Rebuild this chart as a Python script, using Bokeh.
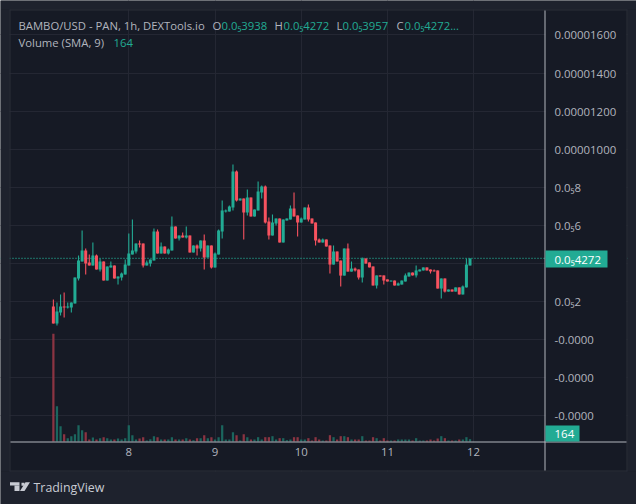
from bokeh.plotting import figure
from bokeh.models import Label, FixedTicker, Range1d, Span, ColumnDataSource, BoxAnnotation, PolyAnnotation
from bokeh.embed import file_html
from bokeh.resources import INLINE

# ---- data (prices in units of 1e-6 USD; first candle sits at day 7.125, one candle per hour)
opens = [1.75,0.85,1.43,1.75,1.69,1.69,1.90,3.22,4.11,4.69,4.06,3.90,4.42,3.69,4.11,3.11,3.79,3.90,3.22,3.27,
         3.43,3.90,4.48,4.63,5.06,5.06,3.90,4.00,4.16,5.68,4.53,4.90,4.53,4.69,5.95,5.32,5.48,5.37,5.48,4.58,
         4.95,4.79,5.21,4.32,4.95,3.79,4.48,5.68,6.73,6.73,6.94,8.83,7.31,7.42,6.68,7.47,6.47,6.79,7.73,8.05,
         6.21,5.48,6.10,6.37,5.11,6.26,6.31,6.89,6.52,6.16,6.31,6.94,6.37,6.16,5.26,5.11,5.26,4.95,3.95,4.63,
         4.16,3.37,4.79,3.58,3.74,3.69,3.27,4.27,4.06,3.85,2.85,3.38,3.38,3.17,3.06,3.11,2.85,2.90,3.06,3.32,
         3.53,3.38,3.59,3.64,3.80,3.69,3.64,3.64,2.69,3.22,2.53,2.64,2.53,2.75,2.38,2.75,3.90]
highs = [2.11,1.96,2.38,2.48,1.96,1.96,3.27,4.42,5.74,4.79,4.48,5.11,4.48,4.27,4.11,3.85,4.11,3.90,3.32,3.53,
         4.21,5.58,6.31,5.06,5.21,5.06,4.16,4.21,5.84,5.79,5.11,4.90,4.79,6.47,5.95,5.48,5.63,5.95,5.48,4.95,
         5.00,5.21,5.53,4.95,4.95,4.58,5.79,7.31,6.84,7.05,9.20,8.89,7.42,7.42,7.89,7.47,6.84,8.31,8.10,8.10,
         6.42,6.58,6.37,6.37,6.31,6.37,7.05,7.73,6.52,6.42,6.94,7.10,6.37,6.16,5.32,5.32,5.26,4.95,4.95,4.63,
         4.16,4.79,5.06,4.11,3.79,3.69,4.32,4.27,4.06,3.85,3.38,3.38,3.38,3.17,3.11,3.11,3.01,3.11,3.48,3.53,
         3.53,3.90,3.69,3.80,3.80,3.69,3.69,3.64,3.22,3.22,2.64,2.64,2.75,2.75,2.85,4.27,4.27]
lows  = [0.85,0.75,1.27,1.17,1.64,1.43,1.90,3.11,4.11,3.43,3.90,3.90,3.69,3.58,3.11,3.11,3.79,3.22,2.90,3.11,
         3.43,3.90,4.48,4.53,4.84,3.79,3.90,3.85,4.16,4.53,4.53,4.53,4.48,4.69,5.32,5.21,5.37,5.32,4.58,4.58,
         4.42,4.63,3.69,4.32,3.74,3.79,4.48,5.32,6.68,6.73,6.79,7.26,7.31,5.26,6.52,6.47,6.47,6.79,7.42,6.10,
         5.26,5.48,6.00,5.11,5.11,6.26,6.31,6.47,5.42,6.16,6.31,6.21,6.10,4.95,5.11,5.11,4.90,3.48,3.95,4.11,
         2.80,3.37,3.58,3.58,3.58,3.17,3.01,4.00,3.80,2.85,2.69,3.32,2.90,3.06,3.06,2.85,2.85,2.90,3.06,3.32,
         3.38,3.27,3.59,3.64,3.64,3.48,3.59,2.69,2.17,2.48,2.53,2.53,2.53,2.38,2.38,2.75,3.90]
closes= [0.85,1.49,1.75,1.69,1.75,1.96,3.27,4.16,4.69,4.00,3.90,4.42,3.69,4.11,3.11,3.85,3.90,3.22,3.32,3.48,
         3.95,4.53,4.69,5.06,5.00,3.90,4.06,4.21,5.68,4.53,4.90,4.53,4.74,5.95,5.32,5.48,5.37,5.48,4.58,4.95,
         4.79,5.21,4.32,4.95,3.79,4.53,5.74,6.79,6.79,7.00,8.83,7.31,7.42,6.68,7.47,6.47,6.84,7.78,8.05,6.16,
         5.48,6.16,6.37,5.11,6.31,6.37,6.89,6.47,6.16,6.37,6.94,6.31,6.10,5.21,5.11,5.26,4.90,3.95,4.63,4.11,
         3.37,4.79,3.58,3.74,3.64,3.27,4.27,4.00,3.80,2.85,3.38,3.32,3.11,3.06,3.11,2.85,2.96,3.11,3.38,3.53,
         3.38,3.64,3.69,3.80,3.64,3.59,3.59,2.69,3.22,2.53,2.64,2.53,2.75,2.38,2.80,3.95,4.27]
volumes = [7580,2480,1076,515,234,374,515,1147,796,655,140,281,140,234,304,234,140,140,210,140,
           234,1147,445,140,210,304,70,164,374,304,140,140,140,304,140,140,140,234,140,94,
           234,234,445,234,304,140,304,1147,140,140,655,445,70,515,304,140,140,304,140,304,
           304,374,140,234,234,94,140,304,304,140,140,234,70,304,140,70,70,445,304,140,
           374,374,304,140,140,140,374,70,70,304,234,70,234,70,70,70,140,140,140,140,
           70,234,70,70,70,140,70,210,374,234,70,70,70,140,140,304,164]
price_ticks = [16, 14, 12, 10, 8, 6, 4, 2, 0, -2, -4]
price_labels = ["0.00001600", "0.00001400", "0.00001200", "0.00001000", "0.0₅8", "0.0₅6", "",
                "0.0₅2", "-0.0000", "-0.0000", "-0.0000"]
day_ticks = [8, 9, 10, 11, 12]
last_price = 4.272
last_volume = 164
start_day = 7.125

BG = "#161a25"; OUTER = "#1e222d"; EDGE = "#2a2e39"; GRID = "#242733"; AXIS = "#b2b5be"
UP = "#22ab94"; DOWN = "#f7525f"; UPV = "#1b665e"; DOWNV = "#8b3442"
FONT = "Open Sans"

days = [start_day + i / 24 for i in range(len(opens))]
up = [c >= o for o, c in zip(opens, closes)]
src = ColumnDataSource(dict(
    x=days, o=opens, h=highs, l=lows, c=closes, v=volumes,
    top=[max(a, b) for a, b in zip(opens, closes)],
    bot=[min(a, b) for a, b in zip(opens, closes)],
    col=[UP if u else DOWN for u in up],
    volcol=[UPV if u else DOWNV for u in up],
))

# The frame fills the whole page; the axes are pinned at the pane edges inside it.
p = figure(frame_width=636, frame_height=504, output_backend="svg", toolbar_location=None,
           x_range=Range1d(6.5116, 13.8896), y_range=Range1d(-8.646, 17.811),
           x_axis_location="below", y_axis_location="right",
           min_border=0, min_border_left=0, min_border_top=0, min_border_right=0, min_border_bottom=0,
           background_fill_color=BG, border_fill_color=OUTER, outline_line_color=None)
p.extra_y_ranges = {"vol": Range1d(-4429, 31002)}


def box(x0, y0, x1, y1, fill, level="glyph"):
    p.add_layout(BoxAnnotation(left=x0, right=x1, top=y0, bottom=y1,
                               left_units="canvas", right_units="canvas", top_units="canvas", bottom_units="canvas",
                               fill_color=fill, fill_alpha=1, line_alpha=0, level=level))


def label(x, y, text, color, size="11.3px"):
    p.add_layout(Label(x=x, y=y, x_units="canvas", y_units="canvas", text=text, text_color=color,
                       text_font=FONT, text_font_size=size, text_baseline="middle", text_align="left"))


for ax in (p.xaxis[0], p.yaxis[0]):
    ax.major_tick_line_color = None
    ax.minor_tick_line_color = None
    ax.major_tick_out = 0
    ax.axis_line_color = None
    ax.major_label_text_color = AXIS
    ax.major_label_text_font = FONT
    ax.major_label_text_font_size = "11.4px"
p.xaxis[0].fixed_location = -5.339
p.yaxis[0].fixed_location = 12.823
p.xaxis[0].ticker = FixedTicker(ticks=day_ticks)
p.xaxis[0].major_label_overrides = {d: str(d) for d in day_ticks}
p.xaxis[0].major_label_standoff = 6
p.yaxis[0].ticker = FixedTicker(ticks=price_ticks)
p.yaxis[0].major_label_overrides = dict(zip(price_ticks, price_labels))
p.yaxis[0].major_label_standoff = 10
p.xgrid[0].grid_line_color = GRID
p.ygrid[0].grid_line_color = GRID
p.xgrid[0].ticker = FixedTicker(ticks=day_ticks)
p.ygrid[0].ticker = FixedTicker(ticks=price_ticks)

p.add_layout(Span(location=last_price, dimension="width", line_color=UP, line_width=1.4, line_dash="1 2",
                  level="underlay"))

# pane edge, then the strips around the pane (they hide grid ends)
box(545, 10, 626, 441, BG)
box(10, 442, 626, 470, BG)
box(0, 0, 636, 9, OUTER)
box(0, 471, 636, 504, OUTER)
box(0, 9, 9, 471, OUTER)
box(627, 9, 636, 471, OUTER)
box(9, 9, 627, 10, EDGE)
box(9, 470, 627, 471, EDGE)
box(9, 9, 10, 471, EDGE)
box(626, 9, 627, 471, EDGE)
box(10, 441, 626, 442, AXIS)
box(544, 10, 545, 470, AXIS)

p.vbar(x="x", width=0.026, top="v", bottom=0, source=src, fill_color="volcol", line_color=None, y_range_name="vol")
p.segment(x0="x", x1="x", y0="l", y1="h", source=src, line_color="col", line_width=1.1)
p.vbar(x="x", width=0.0348, top="top", bottom="bot", source=src, fill_color="col", line_color=None)

# last-value badges
box(545, 250, 607, 267, UP, level="annotation")
label(554, 258.5, "0.0₅4272", "#ffffff", "11.5px")
box(545, 425, 579, 441, UP, level="annotation")
label(554, 433.5, str(last_volume), "#ffffff", "11.5px")

# header
label(18, 24.5, "BAMBO/USD - PAN, 1h, DEXTools.io", AXIS)
for xl, tl, xv, tv in [(212, "O", 221, "0.0₅3938"), (274, "H", 283, "0.0₅4272"),
                       (336, "L", 342, "0.0₅3957"), (396, "C", 404, "0.0₅4272...")]:
    label(xl, 24.5, tl, AXIS)
    label(xv, 24.5, tv, UP)
label(18, 42, "Volume (SMA, 9)", AXIS)
label(113, 42, str(last_volume), UP)

# TradingView wordmark
LOGO = "#c8cbd3"
box(9.5, 481.7, 19, 485, LOGO, level="annotation")
box(14, 485, 19, 490.5, LOGO, level="annotation")
box(21, 482.2, 24, 485.2, LOGO, level="annotation")
p.add_layout(PolyAnnotation(xs=[25, 29.5, 24, 19.5], ys=[481.7, 481.7, 490.5, 490.5],
                            xs_units="canvas", ys_units="canvas", fill_color=LOGO, fill_alpha=1, line_alpha=0))
label(33, 486.5, "TradingView", LOGO, "12.4px")

open("out.html", "w").write(file_html(p, INLINE))
